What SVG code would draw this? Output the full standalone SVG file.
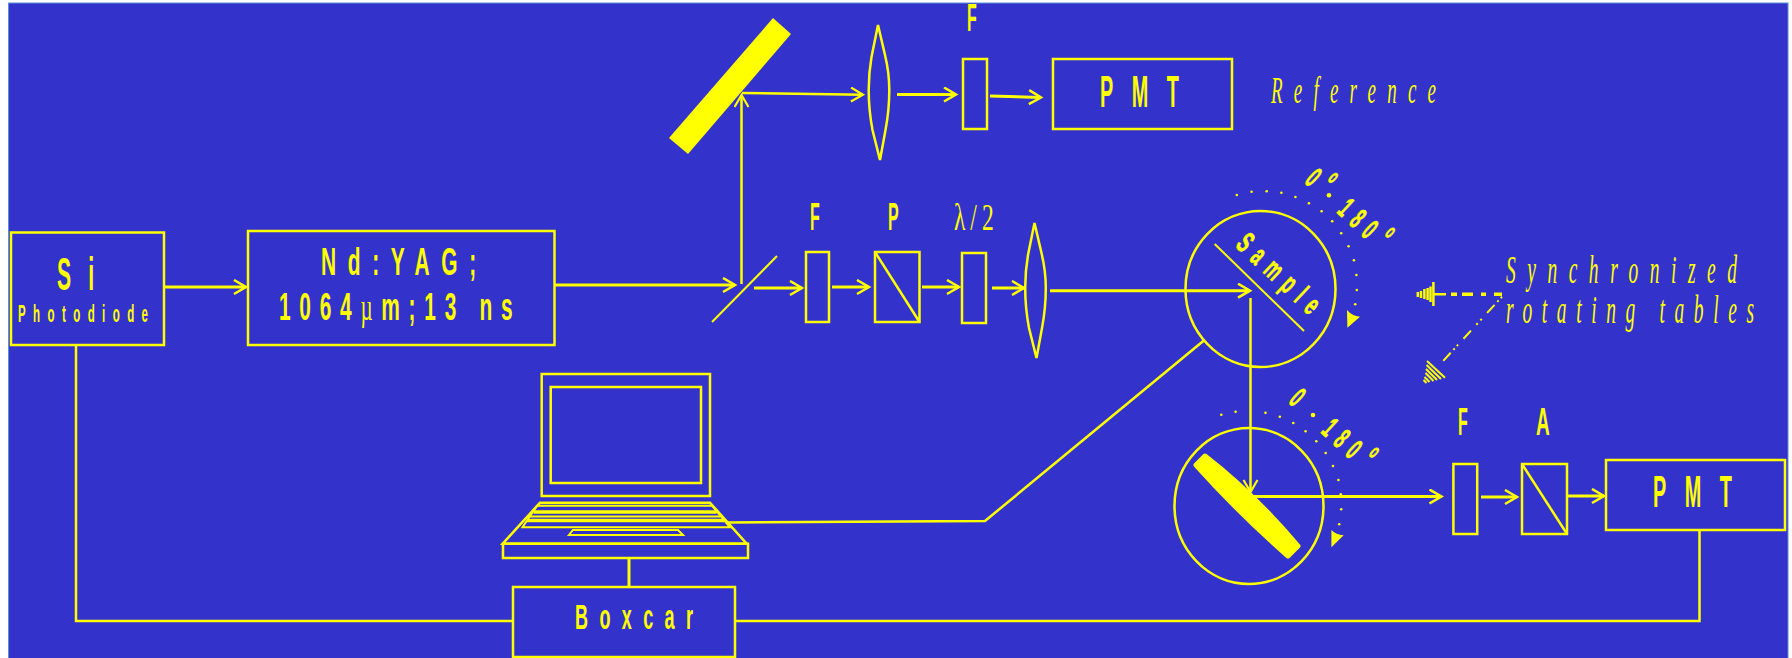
<svg xmlns="http://www.w3.org/2000/svg" width="1792" height="658" viewBox="0 0 1792 658">
<style>
.l{fill:none;stroke:#ffff00;stroke-width:2.5}
.t{fill:none;stroke:#ffff00;stroke-width:2}
.f{fill:#ffff00}
.b{fill:#ffff00;font-family:"Liberation Sans",Arial,sans-serif;font-weight:bold}
.r{stroke:#ffff00;stroke-width:.8}
.s{fill:#ffff00;font-family:"Liberation Serif","Times New Roman",serif;font-style:italic}
.a{fill:none;stroke:#ffff00;stroke-width:3;marker-end:url(#h)}
.a2{fill:none;stroke:#ffff00;stroke-width:2.5;marker-end:url(#h2)}
.d{fill:#ffff00}
</style>
<defs>
<marker id="h" markerUnits="userSpaceOnUse" markerWidth="16" markerHeight="18" refX="13" refY="8" orient="auto"><path d="M1 1L13 8L1 15" fill="none" stroke="#ffff00" stroke-width="2.5"/></marker>
<marker id="h2" markerUnits="userSpaceOnUse" markerWidth="16" markerHeight="18" refX="13" refY="8" orient="auto"><path d="M1 1L13 8L1 15" fill="none" stroke="#ffff00" stroke-width="2.2"/></marker>
<path id="lens" d="M878 25L871.500 57Q868.700 73 868.700 90Q868.700 110 872.500 130L880 160L885.500 130Q889.300 110 889.300 90Q889.300 73 885 55Z"/>
</defs>
<rect width="1792" height="658" fill="#ffffff"/>
<rect x="8.500" y="3" width="1779.500" height="656" fill="#3333cc" stroke="#5b8fd6" stroke-width="1"/>

<g id="connectors">
<path class="a" d="M165 287H246"/>
<path class="a" d="M555 285H735"/>
<path class="a2" d="M741.500 284V95"/>
<path class="a2" d="M742 93L863 94.700"/>
<path class="a" d="M897 94.500H956"/>
<path class="a" d="M990 96L1041 97.500"/>
<path class="a" d="M754 288H802"/>
<path class="a" d="M832 287H869"/>
<path class="a" d="M922 287H959"/>
<path class="a" d="M992 288H1024"/>
<path class="a" d="M1050 290.700H1250"/>
<path class="a2" d="M1250.500 298V492"/>
<path class="a" d="M1252 496.500H1441.500"/>
<path class="a" d="M1481 497H1517"/>
<path class="a" d="M1568 496H1604"/>
<path class="l" d="M76 345V621H513"/>
<path class="l" d="M735 621H1699.500V530"/>
<path class="l" style="stroke-width:3" d="M629 558V587"/>
<path class="l" d="M728 522.500L985 521L1204.500 340"/>
</g>

<g id="si-photodiode">
<rect class="l" x="11" y="232.500" width="153" height="112.500"/>
<text class="b" transform="translate(57 290) scale(.46 1)" font-size="46" letter-spacing="37">Si</text>
<text class="b" transform="translate(18 322) scale(.5 1)" font-size="23" textLength="260">Photodiode</text>
</g>
<g id="nd-yag">
<rect class="l" x="248" y="231" width="306.500" height="114"/>
<text class="b" transform="translate(321 275) scale(.55 1)" font-size="38" textLength="282">Nd:YAG;</text>
<text class="b" transform="translate(279 320) scale(.55 1)" font-size="38" textLength="425">1064<tspan style="font-family:'Liberation Serif',serif;font-weight:normal">µ</tspan>m;13 ns</text>
</g>
<g id="mirror-1"><path class="f" d="M773 18L791 34L688 154L669 138Z"/></g>
<g id="lens-1"><use href="#lens" class="l"/></g>
<g id="filter-ref">
<rect class="l" x="963" y="59" width="24" height="70"/>
<text class="b" transform="translate(967 31) scale(.42 1)" font-size="38">F</text>
</g>
<g id="pmt-ref">
<rect class="l" x="1053" y="59" width="179" height="70"/>
<text class="b" transform="translate(1100 107) scale(.45 1)" font-size="44" textLength="175">PMT</text>
</g>
<g id="reference-label"><text class="s" transform="translate(1271 103) scale(.5 1)" font-size="38" textLength="330">Reference</text></g>
<g id="splitter"><path class="t" d="M712 322L777 256"/></g>
<g id="filter-1">
<rect class="l" x="806" y="252" width="23" height="70"/>
<text class="b" transform="translate(810 230) scale(.42 1)" font-size="38">F</text>
</g>
<g id="polarizer">
<rect class="l" x="875" y="252" width="44.500" height="70"/>
<path class="l" d="M875 252L919.500 322"/>
<text class="b" transform="translate(888 230) scale(.42 1)" font-size="38">P</text>
</g>
<g id="half-wave">
<rect class="l" x="962" y="253" width="24" height="70"/>
<text transform="translate(954 230) scale(.62 1)" font-size="38" fill="#ffff00" font-family="Liberation Serif,serif" textLength="64">λ/2</text>
</g>
<g id="lens-2"><use href="#lens" class="l" transform="translate(156.500 198)"/></g>

<g id="sample-table">
<ellipse class="l" cx="1260.500" cy="289" rx="75" ry="78"/>
<path class="t" d="M1214.700 244L1304 331"/>
<text class="b r" transform="translate(1234.400 246) rotate(43) scale(.55 1)" font-size="30" textLength="186">Sample</text>
<g class="d">
<circle cx="1236.800" cy="195" r="1.300"/><circle cx="1251.600" cy="191.700" r="1.300"/><circle cx="1266.700" cy="191.300" r="1.300"/><circle cx="1281.400" cy="192.700" r="1.300"/><circle cx="1295.400" cy="197" r="1.300"/><circle cx="1308.900" cy="203.300" r="1.300"/><circle cx="1321.600" cy="211.300" r="1.300"/><circle cx="1332.200" cy="221.300" r="1.300"/><circle cx="1341.200" cy="233.300" r="1.300"/><circle cx="1348.600" cy="246.300" r="1.300"/><circle cx="1353.900" cy="260.300" r="1.300"/><circle cx="1356.400" cy="275" r="1.300"/><circle cx="1356.800" cy="290" r="1.300"/><circle cx="1355.200" cy="304.300" r="1.300"/>
<circle cx="1329" cy="195.300" r="2.300"/>
</g>
<path class="f" d="M1347 310Q1352 316 1360 316.700L1347.400 327.700Z"/>
<text class="b r" transform="translate(1303.400 182) rotate(43) scale(.5 1)" font-size="30">0<tspan font-size="21" dx="15" dy="-17.700">o</tspan></text>
<text class="b r" transform="translate(1336 212) rotate(43) scale(.5 1)" font-size="30" letter-spacing="16">180<tspan font-size="21" dx="3" dy="-16.200">o</tspan></text>
</g>

<g id="detector-table">
<ellipse class="l" cx="1249" cy="506" rx="74.500" ry="78"/>
<path class="f" stroke="#ffff00" stroke-width="5" stroke-linejoin="round" d="M1205 456L1196 465Q1240 514 1288 556L1298 546Q1254 494 1205 456Z"/>
<g class="d">
<circle cx="1221.300" cy="414.700" r="1.300"/><circle cx="1235.600" cy="411.700" r="1.300"/><circle cx="1265.500" cy="412.700" r="1.300"/><circle cx="1279.800" cy="416.700" r="1.300"/><circle cx="1293.300" cy="423" r="1.300"/><circle cx="1305.600" cy="431.300" r="1.300"/><circle cx="1316.300" cy="441.300" r="1.300"/><circle cx="1325.700" cy="453" r="1.300"/><circle cx="1333" cy="466" r="1.300"/><circle cx="1338.400" cy="480" r="1.300"/><circle cx="1340.800" cy="494.300" r="1.300"/><circle cx="1341.200" cy="509.300" r="1.300"/><circle cx="1339.200" cy="524.300" r="1.300"/>
<circle cx="1313" cy="415" r="2.300"/>
</g>
<path class="f" d="M1331.400 530Q1336 535 1343.700 535.300L1331.400 547.300Z"/>
<text class="b r" transform="translate(1287.400 402) rotate(43) scale(.5 1)" font-size="30">0</text>
<text class="b r" transform="translate(1320 432) rotate(43) scale(.5 1)" font-size="30" letter-spacing="16">180<tspan font-size="21" dx="3" dy="-16.200">o</tspan></text>
</g>

<g id="sync-indicator">
<path stroke="#ffff00" stroke-width="2.500" d="M1433.400 282V306M1433.400 294.300H1446M1430.500 286.500V302M1427.600 288V300M1424.400 289V299M1421 291V298M1417.800 292V297"/>
<path stroke="#ffff00" stroke-width="3.500" fill="none" d="M1451 294.300H1502" stroke-dasharray="6 5 11 8 5 8 12"/>
<path stroke="#ffff00" stroke-width="2" fill="none" d="M1502 296.700L1441.600 362.700" stroke-dasharray="2 3 2 4 11 8 2 4 2 8 11 8"/>
<path stroke="#ffff00" stroke-width="2" d="M1427 361L1445 377.700M1426.500 365L1441 379M1426 369L1437 380M1425.500 373L1433.500 381M1424.500 377L1429.500 382M1423.500 380L1426.500 383"/>
<text class="s" transform="translate(1506 282.700) scale(.5 1)" font-size="39" textLength="462">Synchronized</text>
<text class="s" transform="translate(1506 323) scale(.5 1)" font-size="39" textLength="496">rotating tables</text>
</g>

<g id="filter-2">
<rect class="l" x="1453.400" y="464" width="23.800" height="70"/>
<text class="b" transform="translate(1458 435) scale(.42 1)" font-size="38">F</text>
</g>
<g id="analyzer">
<rect class="l" x="1522" y="464" width="45" height="70"/>
<path class="l" d="M1522 464L1567 534"/>
<text class="b" transform="translate(1536 435) scale(.5 1)" font-size="38">A</text>
</g>
<g id="pmt-signal">
<rect class="l" x="1606" y="460" width="179" height="70"/>
<text class="b" transform="translate(1653 507) scale(.45 1)" font-size="44" textLength="175">PMT</text>
</g>

<g id="computer">
<rect class="l" x="541.700" y="374" width="168.300" height="122"/>
<rect class="l" x="550.700" y="387" width="150.300" height="96"/>
<path class="l" d="M540 502.700H710L746.700 543.700H502.700Z"/>
<rect class="l" x="503" y="543.700" width="245" height="14.300"/>
<path class="t" d="M537 505.700H712L730 527.300H522.500Z"/>
<path class="t" style="stroke-width:3.500" d="M533.500 512H716.700M527 520.500H724"/>
<path class="t" d="M530 516.500H720"/>
<path class="t" d="M573 530H678L683 535H569Z"/>
</g>
<g id="boxcar">
<rect class="l" x="513" y="587" width="222" height="70"/>
<text class="b" transform="translate(575 629) scale(.5 1)" font-size="36" textLength="236">Boxcar</text>
</g>
</svg>
